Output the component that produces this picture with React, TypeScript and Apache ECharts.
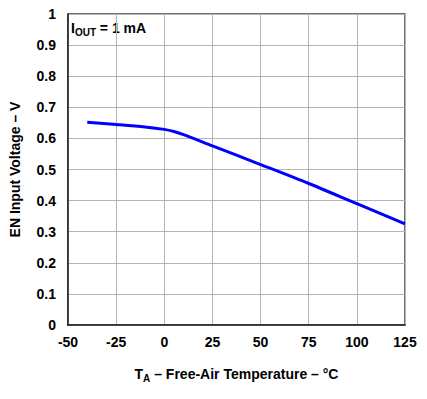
import React, { useEffect, useRef } from "react";
import * as echarts from "echarts";

const temps = [-40, -25, -10, 0, 5, 10, 25, 50, 75, 100, 125];
const voltages = [0.652, 0.645, 0.637, 0.629, 0.622, 0.612, 0.576, 0.516, 0.455, 0.39, 0.325];
const xTicks = [-50, -25, 0, 25, 50, 75, 100, 125];
const yTicks = [0, 0.1, 0.2, 0.3, 0.4, 0.5, 0.6, 0.7, 0.8, 0.9, 1];

const FONT = "Liberation Sans, Arial, sans-serif";

export default function App() {
  const ref = useRef<HTMLDivElement>(null);
  useEffect(() => {
    if (!ref.current) return;
    const chart = echarts.init(ref.current, null, { renderer: "svg" });
    chart.setOption({
      animation: false,
      backgroundColor: "#ffffff",
      grid: {
        left: 67,
        right: 22,
        top: 14,
        bottom: 74,
        show: true,
        borderColor: "#404040",
        borderWidth: 1.5,
      },
      xAxis: {
        type: "value",
        min: -50,
        max: 125,
        interval: 25,
        name: "T{s|A} – Free-Air Temperature – °C",
        nameLocation: "middle",
        nameGap: 40,
        nameTextStyle: {
          fontFamily: FONT,
          fontWeight: "bold",
          fontSize: 14,
          color: "#000",
          rich: {
            s: { fontFamily: FONT, fontWeight: "bold", fontSize: 10, color: "#000", padding: [8, 0, 0, 0] },
          },
        },
        axisLine: { show: true, onZero: false, lineStyle: { color: "#202020", width: 1.5 } },
        axisTick: { show: false },
        splitLine: { show: true, lineStyle: { color: "#b4b4b4", width: 1 } },
        axisLabel: {
          fontFamily: FONT,
          fontWeight: "bold",
          fontSize: 14,
          color: "#000",
          margin: 10,
          formatter: (v: number) => (xTicks.includes(v) ? String(v) : ""),
        },
      },
      yAxis: {
        type: "value",
        min: 0,
        max: 1,
        interval: 0.1,
        name: "EN Input Voltage – V",
        nameLocation: "middle",
        nameRotate: 90,
        nameGap: 46,
        nameTextStyle: { fontFamily: FONT, fontWeight: "bold", fontSize: 14, color: "#000" },
        axisLine: { show: true, onZero: false, lineStyle: { color: "#202020", width: 1.5 } },
        axisTick: { show: false },
        splitLine: { show: true, lineStyle: { color: "#b4b4b4", width: 1 } },
        axisLabel: {
          fontFamily: FONT,
          fontWeight: "bold",
          fontSize: 14,
          color: "#000",
          margin: 12,
          formatter: (v: number) => {
            const t = yTicks.find((y) => Math.abs(y - v) < 1e-6);
            return t === undefined ? "" : String(Math.round(t * 10) / 10);
          },
        },
      },
      graphic: [
        {
          type: "text",
          left: 71,
          top: 21,
          style: {
            text: "I{s|OUT} = 1 mA",
            fontFamily: FONT,
            fontWeight: "bold",
            fontSize: 14,
            fill: "#000",
            rich: {
              s: { fontFamily: FONT, fontWeight: "bold", fontSize: 10, fill: "#000", padding: [8, 0, 0, 0] },
            },
          },
        },
      ],
      series: [
        {
          type: "line",
          data: temps.map((t, i) => [t, voltages[i]]),
          showSymbol: false,
          smooth: 0.3,
          lineStyle: { color: "#0000ff", width: 3 },
        },
      ],
    });
    return () => chart.dispose();
  }, []);
  return (
    <div
      ref={ref}
      style={{ position: "fixed", left: 0, top: 0, width: 427, height: 399, background: "#fff" }}
    />
  );
}
